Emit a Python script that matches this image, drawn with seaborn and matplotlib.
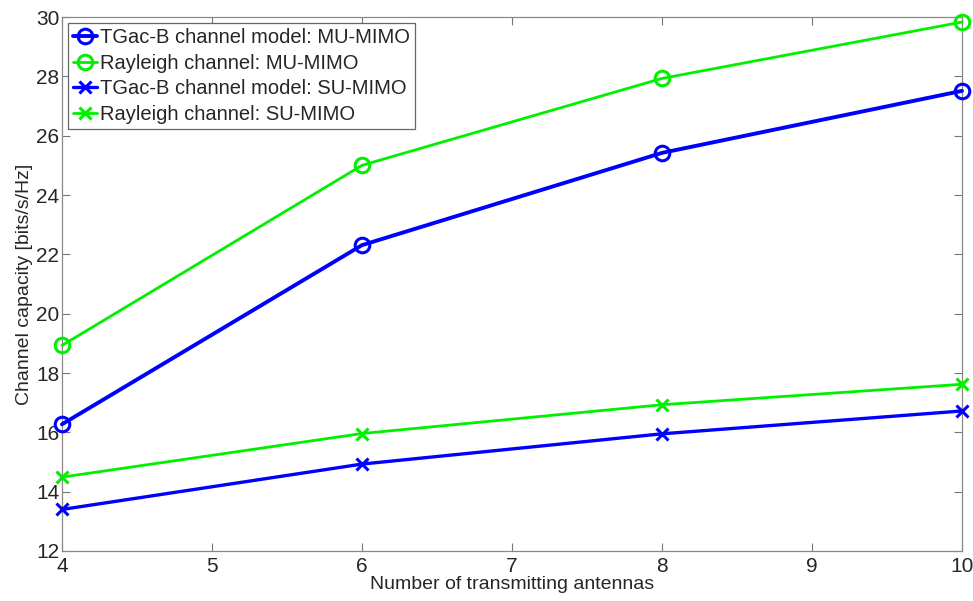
import matplotlib

matplotlib.use("Agg")
import matplotlib.pyplot as plt
import pandas as pd
import seaborn as sns

antennas = [4, 6, 8, 10]
tgac_mu = [16.27, 22.31, 25.42, 27.51]
rayleigh_mu = [18.93, 25.0, 27.93, 29.83]
tgac_su = [13.4, 14.93, 15.95, 16.72]
rayleigh_su = [14.49, 15.96, 16.93, 17.62]

series_names = [
    "TGac-B channel model: MU-MIMO",
    "Rayleigh channel: MU-MIMO",
    "TGac-B channel model: SU-MIMO",
    "Rayleigh channel: SU-MIMO",
]
series_values = [tgac_mu, rayleigh_mu, tgac_su, rayleigh_su]

frames = []
for name, values in zip(series_names, series_values):
    frames.append(pd.DataFrame({"antennas": antennas, "capacity": values, "series": name}))
data = pd.concat(frames, ignore_index=True)

sns.set_style("ticks")
plt.rcParams["font.family"] = ["Liberation Sans", "DejaVu Sans"]

styles = {
    series_names[0]: dict(color="#0000ff", marker="o", lw=2.8, ms=10.5),
    series_names[1]: dict(color="#00f000", marker="o", lw=2.0, ms=10.5),
    series_names[2]: dict(color="#0000ff", marker="x", lw=2.4, ms=8),
    series_names[3]: dict(color="#00f000", marker="x", lw=2.0, ms=8),
}

fig = plt.figure(figsize=(9.73, 6.01), dpi=100)
ax = fig.add_axes([0.0637, 0.0832, 0.9250, 0.8885])

for name in series_names:
    st = styles[name]
    sub = data[data["series"] == name]
    sns.lineplot(
        data=sub,
        x="antennas",
        y="capacity",
        ax=ax,
        color=st["color"],
        linewidth=st["lw"],
        marker=st["marker"],
        markersize=st["ms"],
        markerfacecolor="none",
        markeredgecolor=st["color"],
        markeredgewidth=2.2,
        label=name,
        clip_on=False,
        zorder=3,
    )

ax.set_xlim(4, 10)
ax.set_ylim(12, 30)
ax.set_xticks(range(4, 11))
ax.set_yticks(range(12, 31, 2))
ax.set_xlabel("Number of transmitting antennas", fontsize=14, labelpad=0)
ax.set_ylabel("Channel capacity [bits/s/Hz]", fontsize=14, labelpad=2)
ax.tick_params(direction="in", top=True, right=True, labelsize=15, length=6,
               color="#777777", width=0.8)
ax.tick_params(axis="x", pad=4)
ax.tick_params(axis="y", pad=2)
for spine in ax.spines.values():
    spine.set_visible(True)
    spine.set_color("#888888")
    spine.set_linewidth(0.9)

leg = ax.legend(loc="upper left", fontsize=14.5, frameon=True, fancybox=False,
                handlelength=1.2, handletextpad=0.15, borderpad=0.25,
                labelspacing=0.33, borderaxespad=0.3)
leg.get_frame().set_edgecolor("#666666")
leg.get_frame().set_linewidth(0.9)
leg.get_frame().set_alpha(1)

fig.savefig("out.png", dpi=100)
